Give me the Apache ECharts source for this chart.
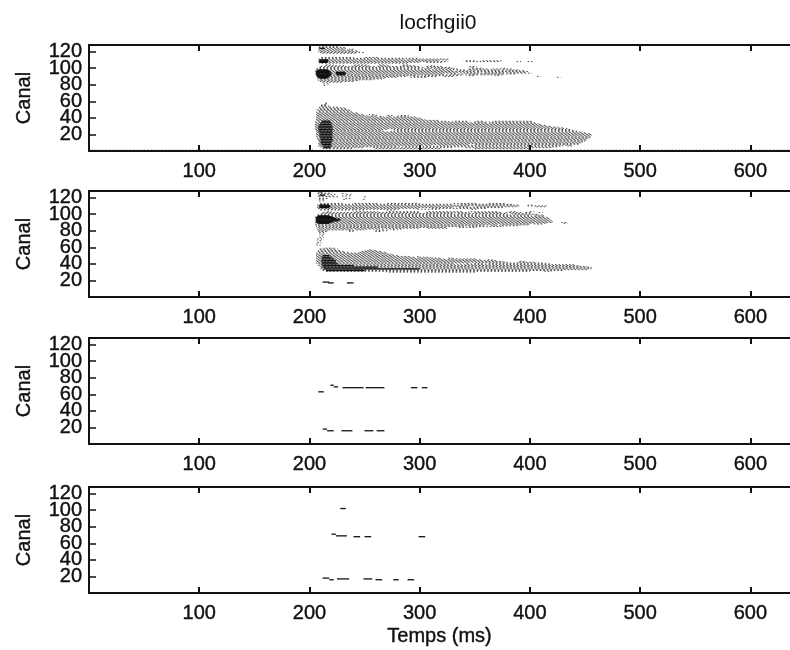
<!DOCTYPE html>
<html>
<head>
<meta charset="utf-8">
<script src="https://cdn.jsdelivr.net/npm/echarts@6/dist/echarts.min.js"></script>
<style>
    html,body{margin:0;padding:0;background:#fff;}
    #main{width:790px;height:650px;}
</style>
</head>
<body>
<div id="main"></div>
<script>
// tick labels
var xTicks = [100, 200, 300, 400, 500, 600];
var yTicks = [20, 40, 60, 80, 100, 120];

// each row: channel, then start,end pairs (ms)
var panel1Rows = [
    [126,209,226],[125,208,232],[124,208,235],[123,208,232,236,240],[122,208,240],[121,208,243],[120,208,246],[119,209,250],[118,210,242],
    [113,210,240,250,262],[112,209,300],[111,208,285,290,326],[110,208,326],[109,208,318,340,350,355,375],[108,208,326,342,372,388,392,398,403],[107,208,300,305,322],[106,209,290],
    [104,214,222,240,252,262,270,284,290],[103,212,232,238,256,262,274,282,296,308,314],[102,210,260,262,280,282,300,306,320,345,352],
    [101,208,286,288,304,306,328,346,350],[100,207,300,304,332,346,356,374,378],[99,206,310,314,336,344,362,366,384],
    [98,205,342,344,372,374,390],[97,205,330,334,376,378,396],[96,205,350,352,400],[95,205,356,358,396],
    [94,205,334,340,376,380,402],[93,205,322,328,352,356,388],[92,205,340,344,376],[91,206,298,302,336,342,350,368,372],
    [90,206,288,294,316,322,332,406,410],[89,206,280,290,306,423,428],[88,207,270],[87,207,266],[86,208,258],[85,208,245],[84,209,240],[83,210,230],[81,212,218],[79,213,216],
    [58,214,216],[57,213,216],[56,211,216],[55,210,217],[54,209,218],[53,209,228],[52,208,232],[51,208,235],[50,207,236],[49,207,237],[48,207,238],[47,206,240],[46,206,243],[45,206,246],
    [44,206,250,254,258],[43,206,252,256,262,270,276,282,290],[42,206,260,262,266,270,275,278,290],[41,206,296],[40,206,300],[39,206,303],[38,206,305],[37,206,318],
    [36,206,326,330,345,350,358,366,402],[35,205,345,350,402],[34,205,360,364,406],[33,205,408],[32,205,410],[31,205,415],[30,205,420],[29,205,425],[28,205,430],[27,205,434],
    [26,205,270,276,438],[25,205,266,278,440],[24,206,268,274,444],[23,206,448],[22,206,452],[21,206,455],[20,206,456],[19,206,456],[18,206,455],[17,206,455],[16,207,455],[15,207,454],
    [14,207,452],[13,207,451],[12,208,450],[11,208,449],[10,208,448],[9,208,446],[8,208,345,350,444],[7,208,310,316,438],[6,208,300,306,430,434,440],[5,209,280,286,425],
    [4,210,250,256,330,340,420],[3,212,240,260,320,350,400],[1,0,205,212,636]
];
var panel1Core = [
    [124,209,214],[110,209,217],[109,209,217],[108,209,217],[107,209,216],
    [98,208,216],[97,207,218],[96,206,219],[95,206,219,224,232],[94,206,220,224,233],[93,206,220,224,233],[92,206,220,225,232],[91,207,219],[90,207,218],[89,208,217],[88,209,216],
    [36,211,219],[34,210,220],[32,209,220],[30,208,221],[28,208,221],[26,208,221],[24,208,221],[22,209,221],[20,209,221],[18,209,221],[16,210,221],[14,210,221],[12,210,221],[10,210,220],[8,211,220],[6,212,220],[4,213,219]
];
var panel2Rows = [
    [127,209,222],[125,207,220,229,233],[124,208,225,232,240],[122,207,222,229,238],[121,207,226,248,252],[119,208,218,232,238],[118,207,215,229,234,247,252],[116,208,214],
    [113,209,230,240,262,270,300,330,352,362,378],[112,208,330,336,385],[111,207,391,398,404],[110,207,391,397,415],[109,207,345,350,388,404,414],[108,207,330,336,376],[107,207,300,310,360],[106,208,282,296,318,345,352],[105,210,250,270,278],
    [103,214,220,240,262,270,300,306,340,344,372,380,388,398,404],[102,212,300,306,345,350,375,378,392,396,402,408,412],[101,210,330,334,378,382,400],
    [100,208,345,348,380,384,408],[99,207,352,356,412],[98,206,400,404,414],[97,205,414],[96,205,416],[95,205,418],[94,205,418],[93,205,419],[92,205,420],[91,205,421],[90,205,421,428,433],[89,205,416,429,434],[88,205,400,404,412],
    [87,205,370,374,400],[86,206,358,364,390],[85,206,340,345,375],[84,207,325,335,352],[83,207,300,306,325],[82,207,262,270,285],[81,207,238,242,250,262,268,275,278],[80,207,218,234,242,258,272],[79,208,216,236,240,260,265],[78,208,214],
    [76,209,214],[74,209,214],[72,208,213],[70,207,212],[68,207,212],[66,206,211],[64,206,210],[62,207,210],
    [59,212,222],[58,209,226],[57,208,224,253,258],[56,208,228,250,262],[55,207,232,247,266],[54,207,236,244,270],[53,206,270],[52,206,274],[51,206,276],[50,206,280],[49,206,292,297,300],
    [48,206,296,298,310],[47,206,320,326,330],[46,206,322,326,352],[45,206,356,360,368],[44,206,370],[43,206,376,390,396],[42,206,380,388,406],[41,206,345,350,414],[40,207,330,342,358,362,420],
    [39,208,440],[38,208,444],[37,209,452],[36,209,456],[35,210,456],[34,210,456],[33,210,452],[32,212,430],[31,214,400,412,420],[30,270,350]
];
var panel2Core = [
    [127,208,212],[123,209,214],[111,209,218],[110,209,219],[109,209,219],[108,209,218],
    [98,208,218],[97,207,220],[96,206,222],[95,206,224],[94,206,228],[93,206,228],[92,206,226],[91,206,222],[90,207,220],[89,208,218],
    [50,212,218],[48,211,220],[46,211,222],[44,211,224],[42,211,224],[40,211,226],[38,212,240],[36,212,262],[34,213,300],[32,215,250]
];
var panel2Solid = [[18,212,218],[17,217,222],[17,234,240]];
var panel3Solid = [[63,208,213],[71,219,222],[69,222,226],[68,230,249],[68,251,268],[68,292,298],[68,302,307],[18,212,216],[16,216,222],[16,229,239],[16,250,258],[16,261,268]];
var panel4Solid = [[102,228,233],[71,220,224],[69,224,234],[68,240,246],[68,250,256],[68,299,305],[18,212,218],[16,218,222],[17,225,236],[17,249,257],[16,260,266],[16,276,281],[16,289,295]];

var panelRows = [panel1Rows, panel2Rows, [], []];
var panelCore = [panel1Core, panel2Core.concat(panel2Solid), panel3Solid, panel4Solid];

var gridTops = [45, 191, 338, 487];
var gridHeight = 106;
var textColor = '#111';
var fontName = '"Liberation Sans", Arial, sans-serif';

// row [ch, s, e, s, e...] to one [s, e, ch] per run
function toRuns(rows){
    var runs = [];
    rows.forEach(function(r){
        for(var i = 1; i < r.length; i += 2){
            runs.push([r[i], r[i + 1], r[0]]);
        }
    });
    return runs;
}

function hatchItem(params, api){
    var a = api.coord([api.value(0), api.value(2)]);
    var b = api.coord([api.value(1), api.value(2)]);
    return {
        type: 'line',
        shape: {x1: a[0], y1: a[1], x2: b[0], y2: b[1]},
        style: {stroke: '#222', lineWidth: 0.8, lineDash: [1.5, 2], lineDashOffset: api.value(2) * 1.2}
    };
}
function solidItem(params, api){
    var a = api.coord([api.value(0), api.value(2)]);
    var b = api.coord([api.value(1), api.value(2)]);
    return {
        type: 'line',
        shape: {x1: a[0], y1: a[1], x2: b[0], y2: b[1]},
        style: {stroke: textColor, lineWidth: 1.3}
    };
}

// scan-like heavier text
function labelStyle(size){
    return {color: textColor, fontSize: size, fontFamily: fontName, textBorderColor: textColor, textBorderWidth: 0.4};
}

var grids = [], xAxes = [], yAxes = [], series = [];
gridTops.forEach(function(top, i){
    grids.push({left: 89, right: 0, top: top, height: gridHeight, outerBoundsMode: 'none'});
    var isLast = i === gridTops.length - 1;
    // bottom axis with labels
    xAxes.push({
        gridIndex: i, type: 'value', min: 0, max: 636, position: 'bottom',
        name: isLast ? 'Temps (ms)' : '',
        nameLocation: 'middle', nameGap: 33,
        nameTextStyle: labelStyle(20),
        axisLine: {show: true, lineStyle: {color: textColor, width: 2}},
        axisTick: {show: true, inside: true, length: 6, customValues: xTicks, lineStyle: {color: textColor, width: 2}},
        axisLabel: Object.assign({show: true, customValues: xTicks, margin: 10}, labelStyle(20)),
        splitLine: {show: false}
    });
    // top frame line with ticks only
    xAxes.push({
        gridIndex: i, type: 'value', min: 0, max: 636, position: 'top',
        axisLine: {show: true, lineStyle: {color: textColor, width: 2}},
        axisTick: {show: true, inside: true, length: 6, customValues: xTicks, lineStyle: {color: textColor, width: 2}},
        axisLabel: {show: false},
        splitLine: {show: false}
    });
    yAxes.push({
        gridIndex: i, type: 'value', min: 0, max: 128, interval: 20, position: 'left',
        name: 'Canal', nameLocation: 'middle', nameRotate: 90, nameGap: 55,
        nameTextStyle: labelStyle(20),
        axisLine: {show: true, lineStyle: {color: textColor, width: 2}},
        axisTick: {show: true, inside: true, length: 7, lineStyle: {color: textColor, width: 1.5}},
        axisLabel: Object.assign({
            show: true, margin: 7,
            // only the listed ticks carry a label, 0 and 128 are the frame
            formatter: function(v){ return yTicks.indexOf(v) >= 0 ? String(v) : ''; }
        }, labelStyle(20)),
        splitLine: {show: false}
    });
    series.push({
        type: 'custom', coordinateSystem: 'cartesian2d', xAxisIndex: i * 2, yAxisIndex: i,
        renderItem: hatchItem, data: toRuns(panelRows[i]), clip: true, silent: true, animation: false
    });
    series.push({
        type: 'custom', coordinateSystem: 'cartesian2d', xAxisIndex: i * 2, yAxisIndex: i,
        renderItem: solidItem, data: toRuns(panelCore[i]), clip: true, silent: true, animation: false
    });
});

var myChart = echarts.init(document.getElementById('main'), null, {renderer: 'canvas'});
myChart.setOption({
    backgroundColor: '#fff',
    animation: false,
    title: {
        text: 'locfhgii0', left: 433, top: 8, textAlign: 'center',
        textStyle: {color: textColor, fontSize: 21, fontWeight: 'normal', fontFamily: fontName}
    },
    grid: grids,
    xAxis: xAxes,
    yAxis: yAxes,
    series: series
});
</script>
</body>
</html>
